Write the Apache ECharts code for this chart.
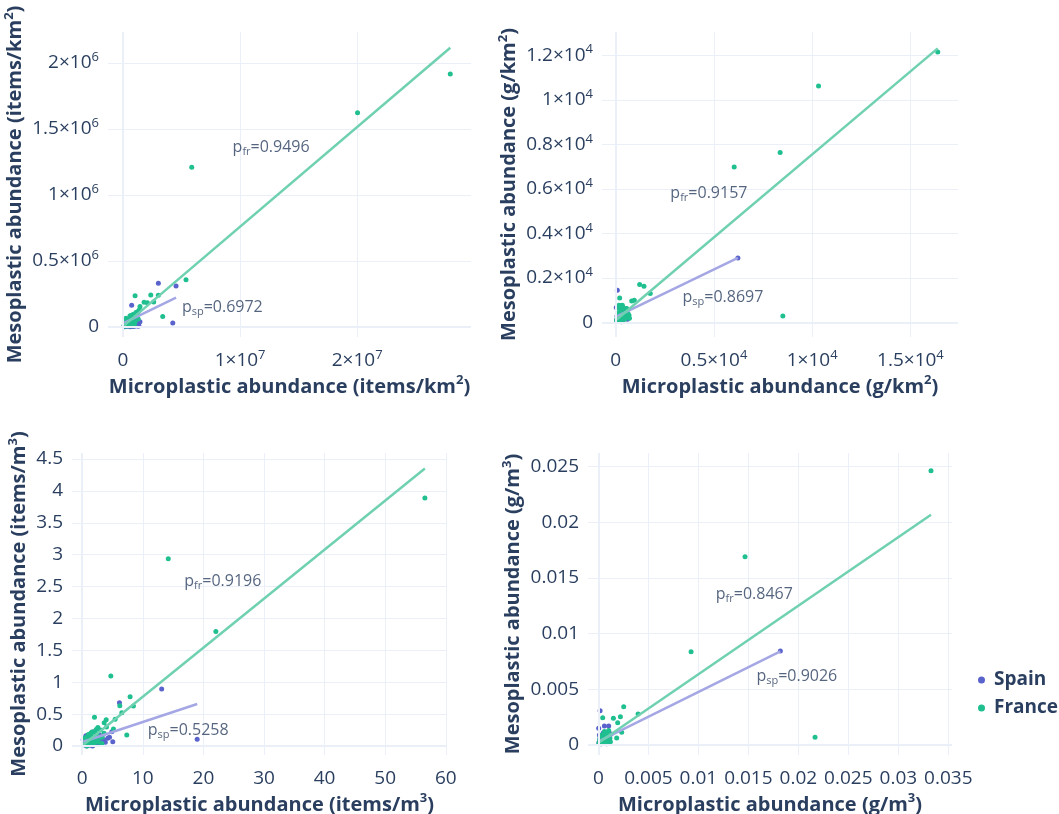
<!DOCTYPE html>
<html>
<head>
<meta charset="utf-8">
<script src="https://cdn.jsdelivr.net/npm/echarts@6/dist/echarts.min.js"></script>
<style>
  html, body { margin: 0; padding: 0; background: #ffffff; }
  #chart { width: 1059px; height: 814px; }
</style>
</head>
<body>
<div id="chart"></div>
<script>
// Meso- vs microplastic abundance, Spain and France, four unit systems.

// Panel A: items/km²  (x: microplastic, y: mesoplastic)
const spainA = [
  [2.0e5, 4.0e3], [3.5e5, 1.2e4], [5.0e5, 6.0e3], [6.5e5, 2.0e4], [8.0e5, 1.0e4],
  [9.5e5, 2.8e4], [1.1e6, 1.5e4], [1.25e6, 3.5e4], [4.0e5, 2.5e4], [7.0e5, 3.8e4],
  [1.0e5, 1.0e4], [1.3e6, 5.0e3], [6.0e5, 2.0e3], [9.0e5, 3.0e3], [1.45e6, 4.0e4],
  [7.4e5, 1.64e5], [3.02e6, 3.31e5], [4.53e6, 3.10e5], [4.25e6, 3.0e4], [1.0e6, 5.5e4],
  [2.5e5, 2.0e4], [1.5e5, 2.0e3], [3.0e5, 6.0e3], [4.5e5, 1.5e4], [5.5e5, 9.0e3],
  [7.5e5, 2.4e4], [8.5e5, 1.6e4], [1.05e6, 8.0e3], [1.15e6, 2.2e4], [1.2e6, 3.0e4],
  [6.8e5, 4.0e3], [3.8e5, 1.8e4], [2.2e5, 1.4e4], [8.8e5, 3.2e4], [1.35e6, 1.2e4],
  [5.2e5, 3.0e4], [9.8e5, 4.5e4]
];
const franceA = [
  [2.795e7, 1.917e6], [2.003e7, 1.623e6], [5.87e6, 1.21e6], [5.38e6, 3.58e5], [3.39e6, 8.0e4],
  [3.02e6, 2.40e5], [2.62e6, 1.90e5], [2.37e6, 2.42e5], [2.08e6, 1.84e5], [1.80e6, 1.88e5],
  [1.45e6, 1.55e5], [1.17e6, 1.04e5], [1.03e6, 2.36e5], [8.8e5, 6.6e4], [7.4e5, 2.8e4],
  [2.6e5, 6.6e4], [5.0e5, 4.5e4], [6.0e5, 8.5e4], [1.2e6, 9.0e4], [1.0e6, 7.0e4],
  [3.0e5, 1.0e4], [4.5e5, 2.0e4], [1.5e5, 5.0e3], [8.0e5, 5.0e4], [9.5e5, 3.5e4],
  [6.5e5, 1.5e4], [1.3e6, 1.2e5], [5.5e5, 3.0e4], [2.0e5, 2.5e4], [7.0e5, 6.0e4],
  [1.0e5, 1.2e4], [2.5e5, 3.5e4], [3.5e5, 4.0e4], [4.0e5, 5.5e4], [5.2e5, 6.5e4],
  [6.2e5, 4.2e4], [7.5e5, 7.5e4], [8.5e5, 9.5e4], [9.0e5, 5.5e4], [1.1e6, 1.1e5],
  [1.15e6, 8.0e4], [1.25e6, 1.0e5], [1.4e6, 1.3e5], [6.8e5, 2.5e4], [4.8e5, 8.0e3],
  [3.2e5, 2.2e4], [1.8e5, 1.5e4], [5.8e5, 5.0e4], [8.0e5, 1.0e4], [9.8e5, 2.0e4],
  [1.05e6, 4.5e4], [7.2e5, 8.8e4], [1.3e6, 6.0e4], [2.8e5, 4.8e4]
];

// Panel B: g/km²
const spainB = [
  [6219, 2900], [83, 1450], [31, 673], [339, 404], [150, 250], [250, 150], [400, 300],
  [100, 80], [200, 350], [300, 200], [450, 250], [50, 120], [500, 180], [350, 100],
  [120, 180], [180, 60], [260, 280], [320, 350], [380, 180], [420, 420], [480, 320],
  [550, 260], [600, 150], [70, 300], [230, 90], [160, 420], [280, 40]
];
const franceB = [
  [16389, 12146], [10323, 10620], [8370, 7630], [6031, 6984], [8507, 296], [1220, 1706],
  [1439, 1629], [1759, 1302], [814, 969], [946, 1001], [203, 1104], [676, 328], [168, 776],
  [339, 776], [559, 628], [450, 500], [300, 450], [250, 300], [150, 200], [100, 100],
  [50, 50], [400, 350], [350, 550], [200, 600], [500, 400], [600, 250], [120, 350],
  [280, 150], [420, 200], [80, 250], [220, 480], [380, 420],
  [60, 150], [130, 280], [180, 380], [240, 520], [270, 650], [320, 700], [360, 260],
  [410, 450], [460, 600], [520, 480], [560, 330], [620, 420], [650, 300], [700, 200],
  [90, 420], [140, 60], [310, 120], [190, 720], [250, 760], [470, 150], [540, 620], [380, 680]
];

// Panel C: items/m³
const spainC = [
  [18.97, 0.105], [13.11, 0.895], [6.14, 0.68], [4.88, 0.225], [4.5, 0.137], [5.04, 0.068],
  [1.86, 0.225], [3.0, 0.05], [2.5, 0.03], [1.5, 0.08], [1.0, 0.12], [0.5, 0.1], [0.8, 0.05],
  [2.0, 0.02], [3.5, 0.1], [1.2, 0.01], [0.3, 0.06], [2.2, 0.15], [4.2, 0.12], [1.7, 0.0],
  [0.2, 0.02], [0.4, 0.12], [0.7, 0.0], [0.9, 0.08], [1.1, 0.06], [1.3, 0.14], [1.9, 0.05],
  [2.4, 0.1], [2.7, 0.07], [3.2, 0.03], [0.6, 0.16], [1.4, 0.03], [2.9, 0.17], [3.8, 0.06],
  [0.15, 0.1]
];
const franceC = [
  [56.55, 3.888], [14.2, 2.936], [22.05, 1.795], [4.72, 1.099], [7.9, 0.774], [8.44, 0.628],
  [6.2, 0.63], [6.53, 0.523], [5.43, 0.419], [3.95, 0.41], [3.62, 0.366], [2.02, 0.45],
  [7.35, 0.173], [5.15, 0.267], [3.24, 0.04], [2.58, 0.29], [3.0, 0.25], [2.2, 0.2],
  [1.5, 0.15], [1.0, 0.1], [0.5, 0.05], [0.3, 0.02], [1.8, 0.08], [2.8, 0.12], [0.8, 0.13],
  [1.2, 0.04], [4.0, 0.3], [0.6, 0.08], [1.6, 0.22],
  [0.2, 0.04], [0.4, 0.1], [0.7, 0.06], [0.9, 0.02], [1.1, 0.15], [1.3, 0.08], [1.4, 0.2],
  [1.7, 0.12], [1.9, 0.03], [2.1, 0.1], [2.4, 0.18], [2.6, 0.06], [3.3, 0.14], [0.5, 0.13],
  [0.8, 0.0], [1.0, 0.18], [2.3, 0.26], [3.6, 0.2], [0.35, 0.07], [1.25, 0.11]
];

// Panel D: g/m³
const spainD = [
  [0.0182, 0.00844], [0.00017, 0.00308], [0.00003, 0.0015], [0.0006, 0.00171], [0.00103, 0.00171],
  [0.00127, 0.00099], [0.0004, 0.0008], [0.0002, 0.0003], [0.0006, 0.0004], [0.0009, 0.0006],
  [0.0003, 0.0001], [0.0007, 0.0002], [0.0011, 0.0005], [0.0005, 0.0011],
  [0.00005, 0.0002], [0.00015, 0.0005], [0.00025, 0.0007], [0.00035, 0.0002], [0.00045, 0.0005],
  [0.00055, 0.0008], [0.00065, 0.0003], [0.00075, 0.0006], [0.00085, 0.0009], [0.00095, 0.0002],
  [0.0001, 0.0009], [0.0008, 0.0001]
];
const franceD = [
  [0.03327, 0.02464], [0.01467, 0.01692], [0.00927, 0.00838], [0.02167, 0.00069], [0.00397, 0.00278],
  [0.00253, 0.00344], [0.0022, 0.00254], [0.0015, 0.0024], [0.00193, 0.002], [0.00233, 0.00114],
  [0.00183, 0.00063], [0.00043, 0.00245], [0.00103, 0.00129], [0.0005, 0.0009], [0.0008, 0.0006],
  [0.0003, 0.0004], [0.0006, 0.0002], [0.0010, 0.0004], [0.0002, 0.0001], [0.0004, 0.0007],
  [0.0007, 0.0010], [0.0012, 0.0003], [0.0001, 0.0003], [0.0009, 0.0008],
  [0.00005, 0.0001], [0.00015, 0.0006], [0.00025, 0.0002], [0.00035, 0.0009], [0.00045, 0.0003],
  [0.00055, 0.0006], [0.00065, 0.0004], [0.00075, 0.0008], [0.00085, 0.0003], [0.00095, 0.0005],
  [0.00105, 0.0007], [0.00115, 0.0006], [0.0002, 0.0008], [0.0006, 0.0012], [0.0009, 0.0011],
  [0.0011, 0.0009], [0.0003, 0.0006], [0.0007, 0.0005]
];

// Linear fits per panel: [slope, intercept]
const fitSpain = [[0.043, 27000], [0.425, 260], [0.0314, 0.063], [0.445, 0.0003]];
const fitFrance = [[0.0755, 5000], [0.745, 100], [0.0769, 0.004], [0.6155, 0.0002]];

// Correlation coefficients and where their labels sit (data coordinates)
const rhoSpain = ['0.6972', '0.8697', '0.5258', '0.9026'];
const rhoFrance = ['0.9496', '0.9157', '0.9196', '0.8467'];
const rhoSpainAt = [[8.48e6, 1.515e5], [5456, 1149], [17.49, 0.251], [0.01985, 0.00614]];
const rhoFranceAt = [[1.265e7, 1.364e6], [4744, 5817], [23.2, 2.579], [0.0156, 0.01354]];

// Axis titles
const unitLabels = ['items/km{s|2}', 'g/km{s|2}', 'items/m{s|3}', 'g/m{s|3}'];

// Axis extents, tick steps and power-of-ten used in tick labels (null = plain numbers)
const xRanges = [[-1.282e6, 2.972e7], [-697, 17421], [-1.69, 60.2], [-0.00104, 0.03537]];
const yRanges = [[-7.58e4, 2.235e6], [-646, 13043], [-0.141, 4.595], [-0.0009, 0.02623]];
const xSteps = [1e7, 5000, 10, 0.005];
const ySteps = [5e5, 2000, 0.5, 0.005];
const xExps = [7, 4, null, null];
const yExps = [6, 4, null, null];

const seriesNames = ['Spain', 'France'];

const INK = '#2a3f5f';
const GRID = '#ebf0f8';
const SPAIN_DOT = '#5a63cc';
const FRANCE_DOT = '#1fbf8f';
const SPAIN_FIT = '#a4a7e4';
const FRANCE_FIT = '#6fd1b1';
const FONT = "'Open Sans', sans-serif";

const grids = [
  { left: 108, top: 32, width: 363, height: 305, outerBoundsMode: 'none', containLabel: false },
  { left: 602, top: 32, width: 356, height: 305, outerBoundsMode: 'none', containLabel: false },
  { left: 72, top: 453, width: 375, height: 302, outerBoundsMode: 'none', containLabel: false },
  { left: 588, top: 453, width: 364, height: 302, outerBoundsMode: 'none', containLabel: false }
];
const xNameGaps = [36, 31, 37, 36];
const yNameGaps = [68, 67, 34, 50];

function tickFormatter(step, exp) {
  return function (v) {
    const k = v / step;
    if (Math.abs(k - Math.round(k)) > 1e-6) return '';
    if (Math.abs(v) < step * 1e-6) return '{b|0}';
    if (exp == null) return '{b|' + parseFloat(v.toPrecision(6)) + '}';
    const m = parseFloat((v / Math.pow(10, exp)).toPrecision(6));
    return '{b|' + m + '×10}{s|' + exp + '}';
  };
}

const labelRich = {
  b: { fontSize: 19, lineHeight: 24, color: INK, fontFamily: FONT },
  s: { fontSize: 13, lineHeight: 12, verticalAlign: 'top', color: INK, fontFamily: FONT }
};
const nameStyle = {
  fontSize: 20, fontWeight: 'bold', color: INK, fontFamily: FONT, lineHeight: 26,
  rich: { s: { fontSize: 13, fontWeight: 'bold', lineHeight: 13, verticalAlign: 'top', color: INK, fontFamily: FONT } }
};
const annoRich = {
  p: { fontSize: 16, lineHeight: 20, color: INK, fontFamily: FONT },
  sub: { fontSize: 11, lineHeight: 11, verticalAlign: 'bottom', color: INK, fontFamily: FONT }
};

function axisCommon(range, step, exp) {
  return {
    type: 'value',
    min: range[0], max: range[1],
    minInterval: step, maxInterval: step,
    axisLine: { show: false }, axisTick: { show: false },
    splitLine: { show: true, showMinLine: false, showMaxLine: false, lineStyle: { color: GRID, width: 1 } },
    axisLabel: {
      formatter: tickFormatter(step, exp), showMinLabel: false, showMaxLabel: false,
      hideOverlap: false, rich: labelRich, color: INK, fontSize: 19, lineHeight: 24
    }
  };
}

function fitLine(points, fit) {
  const xs = points.map(p => p[0]);
  const x0 = Math.min.apply(null, xs), x1 = Math.max.apply(null, xs);
  return [[x0, fit[0] * x0 + fit[1]], [x1, fit[0] * x1 + fit[1]]];
}

const panels = [
  [spainA, franceA], [spainB, franceB], [spainC, franceC], [spainD, franceD]
];

const option = {
  animation: false,
  backgroundColor: '#ffffff',
  textStyle: { fontFamily: FONT },
  grid: grids,
  xAxis: [], yAxis: [], series: [],
  legend: {
    data: seriesNames,
    orient: 'vertical',
    left: 973, top: 665,
    icon: 'circle', itemWidth: 7, itemHeight: 7, itemGap: 8,
    textStyle: { fontSize: 19, fontWeight: 'bold', color: INK, fontFamily: FONT, lineHeight: 20, padding: [0, 0, 0, 4] }
  }
};

panels.forEach(function (pair, i) {
  const xa = axisCommon(xRanges[i], xSteps[i], xExps[i]);
  xa.gridIndex = i;
  xa.name = 'Microplastic abundance (' + unitLabels[i] + ')';
  xa.nameLocation = 'middle';
  xa.nameGap = xNameGaps[i];
  xa.nameTextStyle = nameStyle;
  xa.axisLabel.margin = 12;
  option.xAxis.push(xa);

  const ya = axisCommon(yRanges[i], ySteps[i], yExps[i]);
  ya.gridIndex = i;
  ya.name = 'Mesoplastic abundance (' + unitLabels[i] + ')';
  ya.nameLocation = 'middle';
  ya.nameRotate = 90;
  ya.nameGap = yNameGaps[i];
  ya.nameTextStyle = nameStyle;
  ya.axisLabel.margin = 9;
  option.yAxis.push(ya);

  // zero lines
  option.series.push({
    type: 'line', xAxisIndex: i, yAxisIndex: i, data: [], z: 1, silent: true,
    markLine: {
      silent: true, symbol: 'none', label: { show: false },
      lineStyle: { color: GRID, width: 2, type: 'solid' },
      data: [{ xAxis: 0 }, { yAxis: 0 }]
    }
  });

  const colors = [SPAIN_DOT, FRANCE_DOT];
  pair.forEach(function (pts, k) {
    option.series.push({
      name: seriesNames[k], type: 'scatter', xAxisIndex: i, yAxisIndex: i,
      data: pts, symbolSize: 5, z: 2 + k,
      itemStyle: { color: colors[k], opacity: 1 }
    });
  });

  const fits = [[pair[0], fitSpain[i], SPAIN_FIT], [pair[1], fitFrance[i], FRANCE_FIT]];
  fits.forEach(function (f) {
    option.series.push({
      type: 'line', xAxisIndex: i, yAxisIndex: i, z: 4,
      data: fitLine(f[0], f[1]), showSymbol: false, symbol: 'none',
      lineStyle: { color: f[2], width: 2.5 }, silent: true
    });
  });

  option.series.push({
    type: 'scatter', xAxisIndex: i, yAxisIndex: i, z: 5, symbolSize: 0, silent: true,
    data: [
      { value: rhoFranceAt[i], label: { formatter: '{p|p}{sub|fr}{p|=' + rhoFrance[i] + '}' } },
      { value: rhoSpainAt[i], label: { formatter: '{p|p}{sub|sp}{p|=' + rhoSpain[i] + '}' } }
    ],
    label: { show: true, position: 'inside', rich: annoRich, color: INK }
  });
});

const chart = echarts.init(document.getElementById('chart'), null, { renderer: 'canvas' });
chart.setOption(option);
</script>
</body>
</html>
